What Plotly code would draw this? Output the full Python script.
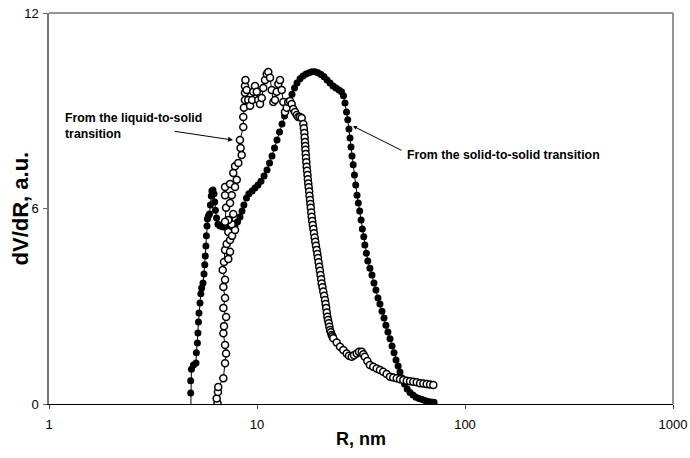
import plotly.graph_objects as go

# ---- data ----
# Filled circles: "From the solid-to-solid transition"
solid_R = [4.80, 4.80, 4.80, 4.84, 4.95, 5.09, 5.11, 5.17, 5.20, 5.23,
           5.26, 5.32, 5.37, 5.42, 5.50, 5.56, 5.61, 5.64, 5.68, 5.71,
           5.75, 5.78, 5.84, 5.91, 5.97, 6.03, 6.07, 6.14, 6.21, 6.26,
           6.31, 6.39, 6.49, 6.64, 6.86, 7.10, 7.34, 7.59, 7.84, 8.06,
           8.28, 8.47, 8.65, 8.90, 9.14, 9.47, 9.78, 10.11, 10.45, 10.81,
           11.17, 11.49, 11.81, 12.14, 12.48, 12.83, 13.19, 13.56, 13.94, 14.33,
           14.73, 15.15, 15.57, 16.10, 16.64, 17.20, 17.78, 18.38, 19.00, 19.64,
           20.31, 21.0, 21.71, 22.44, 23.2, 23.97, 24.78, 25.48, 26.04, 26.49,
           26.94, 27.31, 27.68, 28.0, 28.31, 28.63, 29.0, 29.41, 29.83, 30.26,
           30.7, 31.17, 31.65, 32.1, 32.6, 33.0, 33.55, 34.1, 34.9, 35.7,
           36.5, 37.3, 38.15, 39.0, 39.9, 40.8, 41.66, 42.6, 43.6, 44.6,
           45.6, 46.6, 47.7, 48.7, 49.8, 51.2, 52.7, 54.4, 56.2, 58.1,
           60.1, 62.2, 64.2, 66.4, 68.7, 71.0]
solid_dVdR = [-0.3, 0.34, 0.71, 1.07, 1.20, 1.26, 1.57, 1.87, 2.18, 2.52,
              2.79, 3.10, 3.38, 3.56, 3.71, 3.99, 4.27, 4.54, 4.85, 5.16,
              5.46, 5.68, 5.77, 5.83, 6.11, 6.38, 6.54, 6.57, 6.45, 6.20,
              5.95, 5.71, 5.52, 5.46, 5.43, 5.46, 5.43, 5.43, 5.49, 5.59,
              5.74, 5.92, 6.11, 6.32, 6.45, 6.54, 6.63, 6.72, 6.84, 7.0,
              7.18, 7.40, 7.61, 7.86, 8.10, 8.35, 8.59, 8.84, 9.09, 9.30,
              9.51, 9.70, 9.85, 9.98, 10.07, 10.13, 10.17, 10.20, 10.20, 10.17,
              10.11, 10.04, 9.94, 9.85, 9.76, 9.70, 9.64, 9.58, 9.46, 9.24,
              8.96, 8.72, 8.44, 8.16, 7.89, 7.61, 7.34, 7.03, 6.72, 6.41,
              6.17, 5.92, 5.65, 5.37, 5.13, 4.88, 4.63, 4.39, 4.17, 3.96,
              3.71, 3.50, 3.25, 3.07, 2.85, 2.64, 2.42, 2.21, 2.00, 1.78,
              1.57, 1.35, 1.17, 0.98, 0.80, 0.61, 0.46, 0.35, 0.28, 0.21,
              0.17, 0.14, 0.11, 0.08, 0.06, 0.05]

# Open circles: "From the liquid-to-solid transition"
liquid_R = [6.89, 6.46, 6.40, 6.49, 6.51, 6.89, 7.02, 7.10, 7.02, 6.89,
            6.94, 7.10, 6.89, 7.02, 6.89, 7.02, 6.84, 6.94, 7.02, 7.28,
            7.42, 7.15, 7.42, 7.28, 7.59, 7.84, 7.56, 7.69, 7.28, 7.02,
            7.10, 7.42, 7.56, 7.02, 7.02, 7.42, 7.84, 7.99, 7.69, 7.84,
            8.13, 8.44, 8.34, 8.28, 8.59, 8.59, 8.65, 8.75, 8.75, 8.75,
            8.80, 8.92, 9.07, 9.26, 9.47, 9.60, 9.78, 9.97, 10.14, 10.34,
            10.54, 10.72, 10.93, 11.14, 11.33, 11.55, 11.77, 11.98, 12.21, 12.44,
            12.66, 12.90, 13.15, 13.38, 13.63, 13.89, 14.13, 14.41, 14.68, 14.94,
            15.23, 15.52, 15.79, 16.10, 16.41, 16.70, 16.80, 16.89, 16.95, 17.01,
            17.06, 17.10, 17.15, 17.20, 17.27, 17.33, 17.41, 17.49, 17.56, 17.64,
            17.72, 17.82, 17.88, 17.98, 18.06, 18.14, 18.23, 18.32, 18.43, 18.55,
            18.67, 18.79, 18.93, 19.06, 19.21, 19.36, 19.50, 19.64, 19.78, 19.92,
            20.07, 20.20, 20.34, 20.47, 20.65, 20.83, 21.03, 21.23, 21.37, 21.51,
            21.65, 21.78, 21.95, 22.12, 22.28, 22.44, 22.65, 22.87, 23.07, 23.27,
            24.16, 25.06, 25.99, 26.99, 27.68, 28.53, 29.26, 30.16, 30.93, 31.89,
            32.46, 33.0, 33.92, 34.9, 36.19, 37.6, 39.0, 40.44, 41.98, 43.6,
            45.21, 46.97, 48.7, 50.5, 52.48, 54.4, 56.41, 58.59, 60.8, 63.05,
            65.42, 67.9, 70.41]
liquid_dVdR = [-0.3, 0.02, 0.17, 0.37, 0.52, 0.79, 1.25, 1.55, 1.81, 2.17,
               2.39, 2.67, 2.95, 3.25, 3.59, 3.81, 4.11, 4.36, 4.73, 4.45,
               4.67, 4.91, 5.03, 5.28, 5.16, 5.34, 5.52, 5.83, 5.65, 5.59,
               6.02, 6.17, 6.41, 6.41, 6.66, 6.75, 6.66, 6.88, 7.09, 7.30,
               7.40, 7.64, 7.86, 8.10, 8.50, 8.81, 9.09, 9.33, 9.55, 9.76,
               9.94, 9.64, 9.33, 9.15, 9.33, 9.58, 9.76, 9.58, 9.33, 9.21,
               9.39, 9.70, 9.94, 10.13, 10.19, 10.01, 9.64, 9.27, 9.33, 9.58,
               9.82, 9.94, 9.64, 9.27, 8.96, 9.09, 9.27, 9.30, 9.21, 9.05,
               8.96, 8.87, 8.81, 8.81, 8.78, 8.59, 8.46, 8.32, 8.18, 8.04,
               7.92, 7.80, 7.67, 7.55, 7.42, 7.28, 7.16, 7.03, 6.90, 6.77,
               6.65, 6.52, 6.39, 6.26, 6.14, 6.02, 5.88, 5.75, 5.62, 5.49,
               5.37, 5.24, 5.11, 4.98, 4.86, 4.73, 4.60, 4.48, 4.35, 4.21,
               4.09, 3.96, 3.83, 3.70, 3.58, 3.45, 3.32, 3.19, 3.07, 2.95,
               2.81, 2.68, 2.58, 2.48, 2.37, 2.27, 2.20, 2.12, 2.07, 2.02,
               1.89, 1.76, 1.66, 1.55, 1.48, 1.45, 1.50, 1.55, 1.60, 1.60,
               1.53, 1.45, 1.32, 1.20, 1.14, 1.09, 1.04, 0.99, 0.92, 0.84,
               0.81, 0.79, 0.76, 0.74, 0.71, 0.70, 0.68, 0.67, 0.64, 0.63,
               0.61, 0.60, 0.58]

x_tick_vals = [1, 10, 100, 1000]
x_tick_text = ["1", "10", "100", "1000"]
y_tick_vals = [0, 6, 12]
y_tick_text = ["0", "6", "12"]

x_title = "R, nm"
y_title = "dV/dR, a.u."
label_liquid = "From the liquid-to-solid<br>transition"
label_solid = "From the solid-to-solid transition"

FONT = "Liberation Sans, Arial, Helvetica, sans-serif"

fig = go.Figure()
fig.add_trace(go.Scatter(
    x=solid_R, y=solid_dVdR, mode="lines+markers",
    line=dict(color="black", width=1),
    marker=dict(symbol="circle", size=7, color="black", line=dict(width=0)),
    showlegend=False))
fig.add_trace(go.Scatter(
    x=liquid_R, y=liquid_dVdR, mode="lines+markers",
    line=dict(color="black", width=1),
    marker=dict(symbol="circle", size=7, color="white",
                line=dict(color="black", width=1.5)),
    showlegend=False))

fig.update_layout(
    width=690, height=458,
    margin=dict(l=49, r=17, t=13, b=54),
    paper_bgcolor="white", plot_bgcolor="white",
    font=dict(family=FONT, size=13, color="black"),
    xaxis=dict(type="log", range=[0, 3], tickvals=x_tick_vals, ticktext=x_tick_text,
               ticks="outside", ticklen=4, tickcolor="#444", showgrid=False,
               zeroline=False, showline=True, linecolor="black", linewidth=1,
               ticklabelstandoff=4, automargin=False),
    yaxis=dict(range=[0, 12], tickvals=y_tick_vals, ticktext=y_tick_text,
               ticks="outside", ticklen=4, tickcolor="#666", showgrid=False,
               zeroline=False, showline=True, linecolor="#777", linewidth=1.5,
               ticklabelstandoff=2, automargin=False),
    shapes=[
        dict(type="line", xref="paper", yref="paper", x0=0, x1=1, y0=1, y1=1,
             line=dict(color="#707070", width=1.5)),
        dict(type="line", xref="paper", yref="paper", x0=1, x1=1, y0=0, y1=1,
             line=dict(color="#707070", width=1.5)),
    ],
    annotations=[
        dict(x=0.5, y=-0.0895, xref="paper", yref="paper", text="<b>" + x_title + "</b>",
             showarrow=False, xanchor="center", yanchor="middle", font=dict(size=18)),
        dict(x=-0.0449, y=0.5, xref="paper", yref="paper", text="<b>" + y_title + "</b>",
             showarrow=False, xanchor="center", yanchor="middle", textangle=-90,
             font=dict(size=22)),
        dict(x=0.8846, y=8.10, xref="x", yref="y", text="", showarrow=True,
             ax=-60, ay=-9, arrowhead=2, arrowsize=1, arrowwidth=1, arrowcolor="black"),
        dict(x=1.4615, y=8.53, xref="x", yref="y", text="", showarrow=True,
             ax=50, ay=25, arrowhead=2, arrowsize=0.8, arrowwidth=1, arrowcolor="black"),
        dict(x=0.0224, y=0.711, xref="paper", yref="paper", text="<b>" + label_liquid + "</b>",
             showarrow=False, xanchor="left", yanchor="middle", align="left",
             font=dict(size=12.3)),
        dict(x=0.5705, y=0.6368, xref="paper", yref="paper", text="<b>" + label_solid + "</b>",
             showarrow=False, xanchor="left", yanchor="middle", align="left",
             font=dict(size=12.3)),
    ],
)

# remove the browser's default 8 px page margin so the figure sits at (0, 0)
fig.write_html("out.html", config={"displayModeBar": False},
               post_script="document.body.style.margin='0px';")
